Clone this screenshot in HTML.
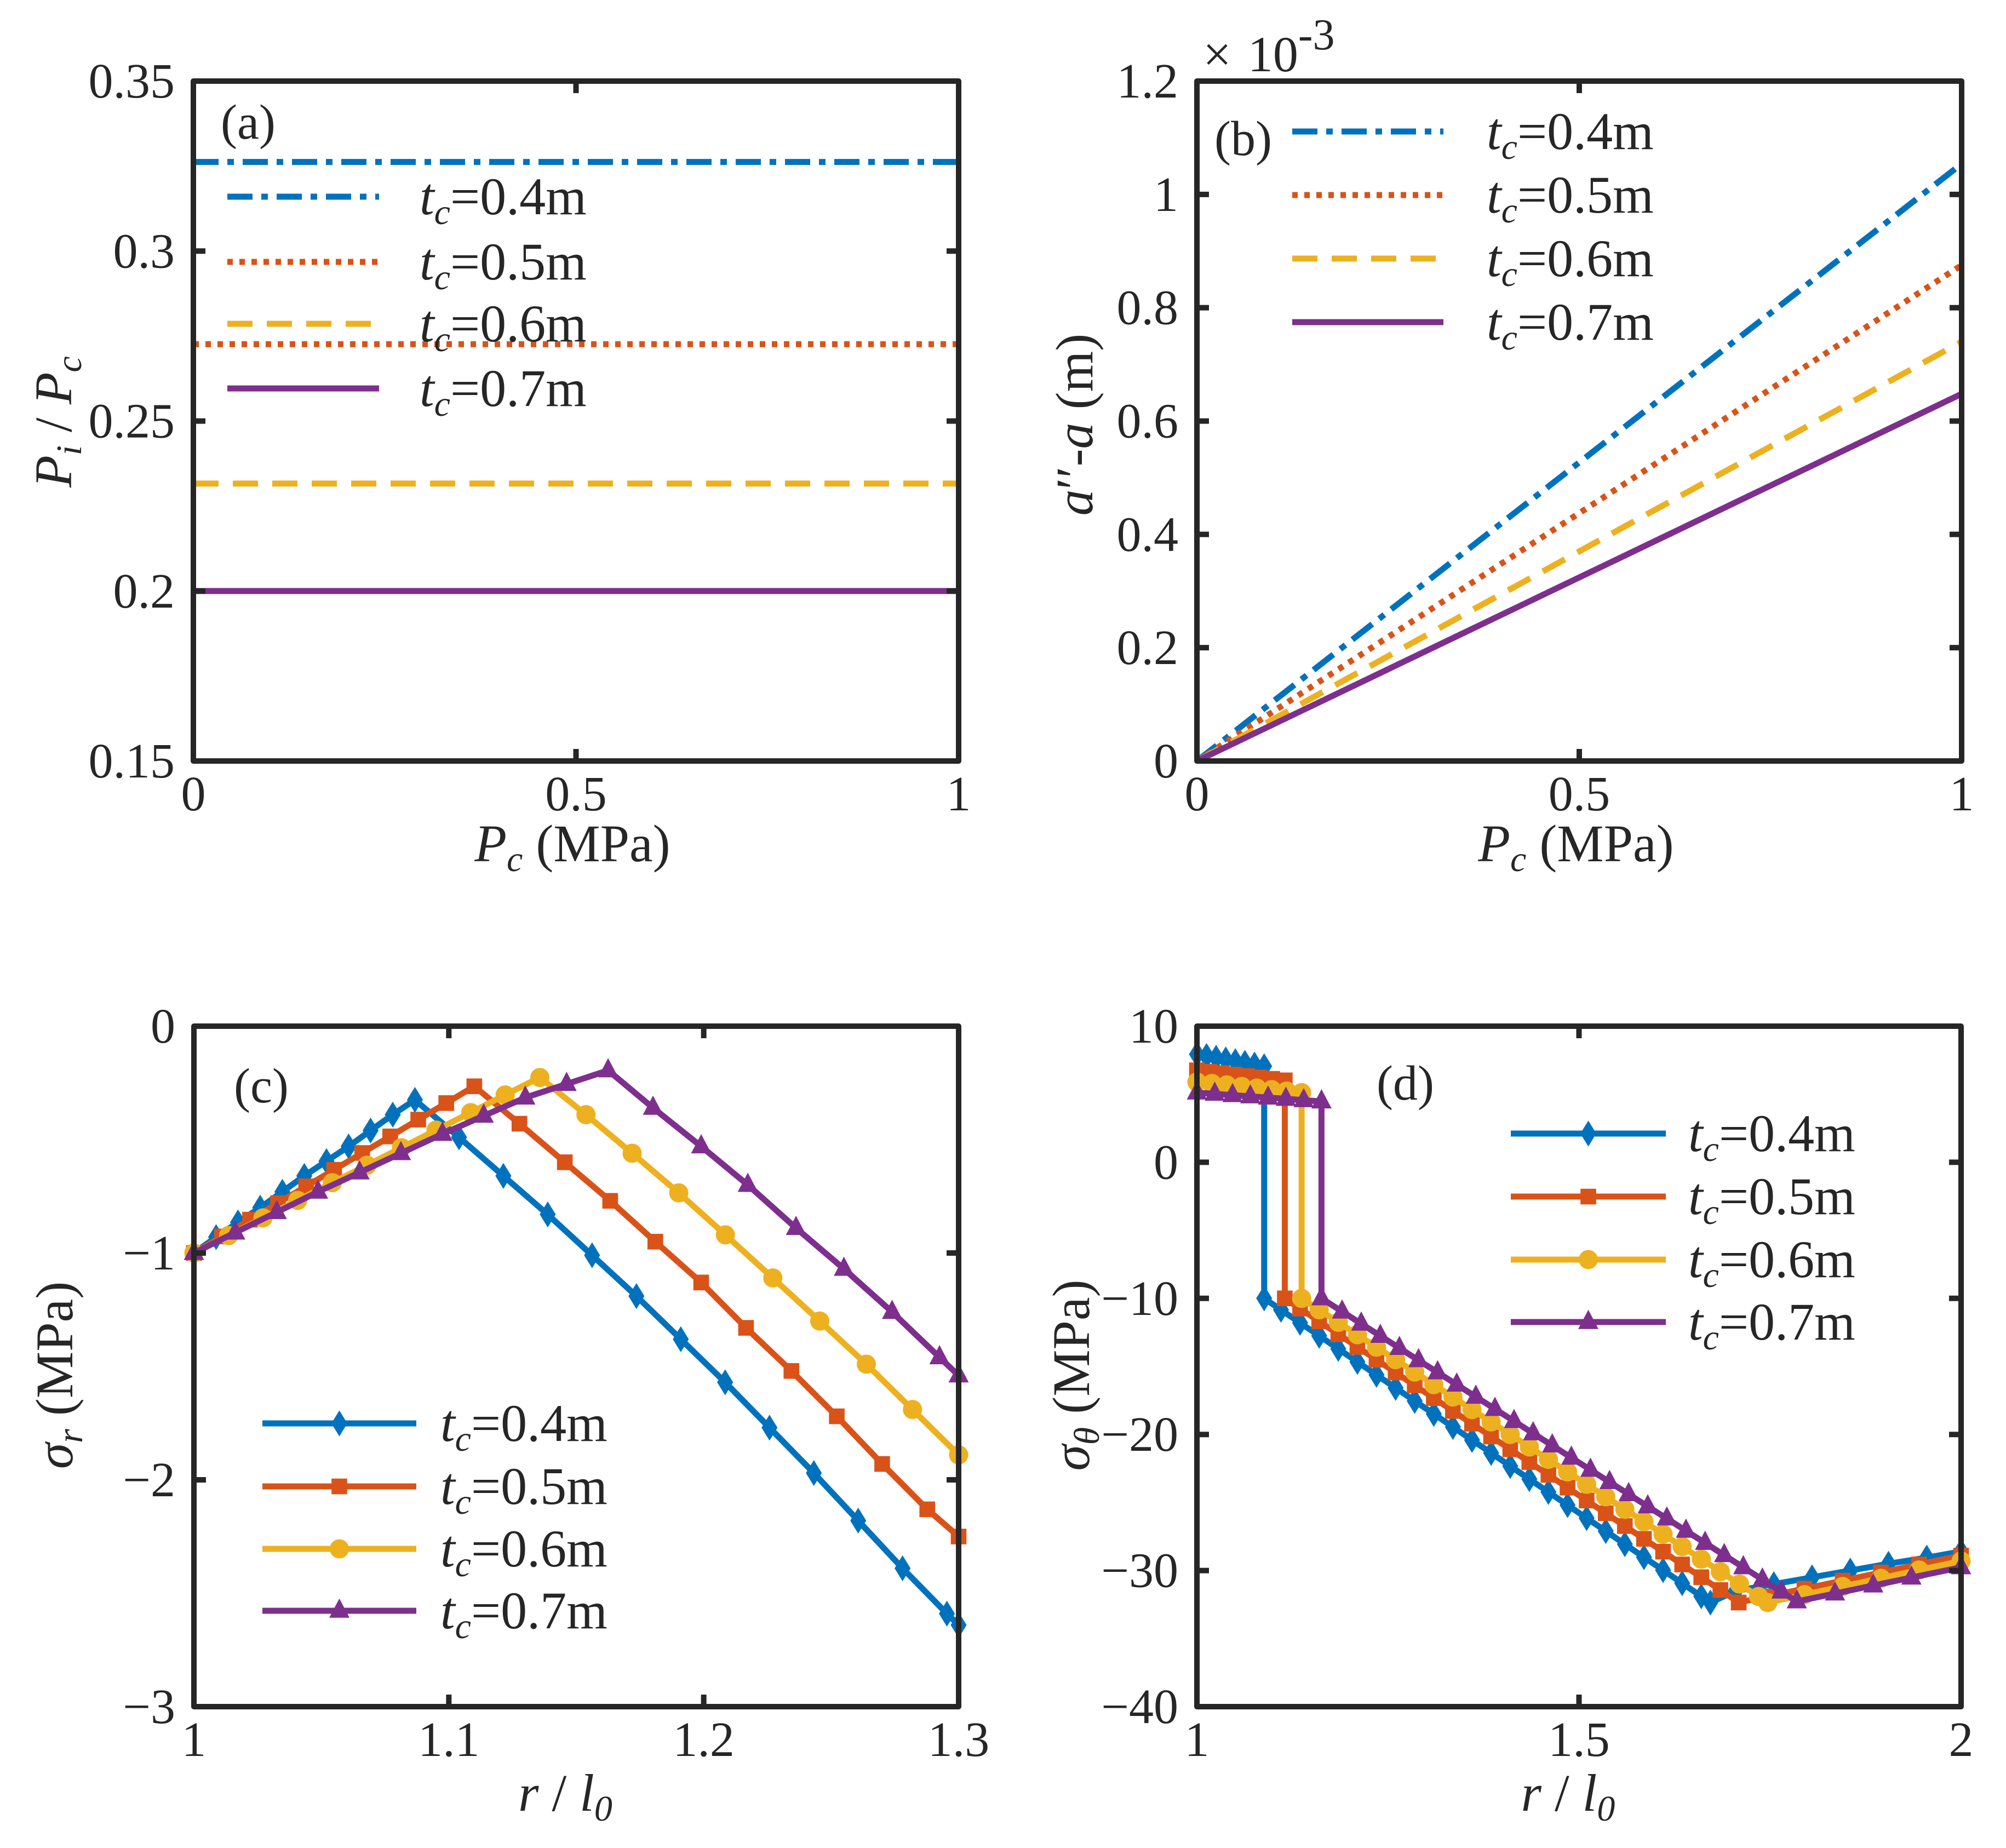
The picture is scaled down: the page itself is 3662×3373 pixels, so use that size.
<!DOCTYPE html>
<html><head><meta charset="utf-8"><style>
html,body{margin:0;padding:0;background:#fff;}
svg{display:block;}
text{font-family:"Liberation Serif",serif;fill:#262626;}
</style></head><body>
<svg id="fig" width="3662" height="3373" viewBox="0 0 3662 3373" xmlns="http://www.w3.org/2000/svg"></svg>
<script>
// ---------- data ----------
const seriesLabels=['0.4m','0.5m','0.6m','0.7m'];
const colors=['#0072BD','#D95319','#EDB120','#7E2F8E'];
// panel (a)
const aPc=[0,1];
const aRatio=[0.3262,0.2726,0.2316,0.2000];
const aXTicks=[0,0.5,1];
const aYTicks=[0.15,0.2,0.25,0.3,0.35];
const aYTickLabels=['0.15','0.2','0.25','0.3','0.35'];
// panel (b) values in units of 1e-3 m
const bPc=[0,1];
const bStart=[0,0,0,0];
const bEnd=[1.054,0.875,0.740,0.648];
const bXTicks=[0,0.5,1];
const bYTicks=[0,0.2,0.4,0.6,0.8,1,1.2];
const bYTickLabels=['0','0.2','0.4','0.6','0.8','1','1.2'];
// panel (c)
const cX0=[1,1.0087,1.0173,1.026,1.0347,1.0433,1.052,1.0607,1.0693,1.078,1.0867,1.104,1.1214,1.1388,1.1562,1.1736,1.191,1.2084,1.2258,1.2432,1.2606,1.278,1.2954,1.3];
const cY0=[-1,-0.93,-0.865,-0.80,-0.73,-0.66,-0.595,-0.53,-0.46,-0.39,-0.325,-0.49,-0.66,-0.83,-1.01,-1.19,-1.38,-1.57,-1.77,-1.97,-2.18,-2.39,-2.59,-2.64];
const cX1=[1,1.011,1.022,1.033,1.044,1.055,1.066,1.077,1.088,1.099,1.110,1.1277,1.1455,1.1633,1.181,1.199,1.2166,1.2344,1.2522,1.27,1.2877,1.3];
const cY1=[-1,-0.927,-0.853,-0.78,-0.706,-0.633,-0.559,-0.486,-0.412,-0.339,-0.265,-0.43,-0.60,-0.77,-0.95,-1.13,-1.33,-1.52,-1.72,-1.93,-2.13,-2.25];
const cX2=[1,1.0136,1.0271,1.0407,1.0543,1.0679,1.0814,1.095,1.1086,1.1221,1.1357,1.1538,1.1719,1.1902,1.2085,1.2271,1.2455,1.2638,1.2819,1.3];
const cY2=[-1,-0.923,-0.845,-0.768,-0.69,-0.613,-0.536,-0.458,-0.381,-0.303,-0.226,-0.39,-0.56,-0.735,-0.92,-1.11,-1.30,-1.49,-1.69,-1.89];
const cX3=[1,1.0162,1.0325,1.0487,1.065,1.0812,1.0975,1.1137,1.13,1.1462,1.1625,1.1801,1.199,1.2173,1.2362,1.255,1.2739,1.2925,1.3];
const cY3=[-1,-0.91,-0.82,-0.73,-0.645,-0.56,-0.475,-0.395,-0.315,-0.255,-0.195,-0.36,-0.53,-0.70,-0.89,-1.07,-1.26,-1.46,-1.54];
const cXTicks=[1,1.1,1.2,1.3];
const cXTickLabels=['1','1.1','1.2','1.3'];
const cYTicks=[-3,-2,-1,0];
const cYTickLabels=['\u22123','\u22122','\u22121','0'];
// panel (d)
const dX0=[1,1.0126,1.0251,1.0377,1.0503,1.0628,1.0754,1.088,1.088,1.11,1.135,1.16,1.185,1.21,1.235,1.26,1.285,1.31,1.335,1.36,1.385,1.41,1.435,1.46,1.485,1.51,1.535,1.56,1.585,1.61,1.635,1.66,1.672,1.705,1.755,1.805,1.855,1.905,1.955,2.0];
const dY0=[7.93,7.81,7.68,7.56,7.43,7.31,7.18,7.06,-10,-10.84,-11.80,-12.75,-13.71,-14.67,-15.62,-16.58,-17.54,-18.49,-19.45,-20.41,-21.36,-22.32,-23.28,-24.23,-25.19,-26.15,-27.10,-28.06,-29.02,-29.97,-30.93,-31.89,-32.35,-31.5,-31.0,-30.5,-30.0,-29.5,-29.05,-28.6];
const dX1=[1,1.0164,1.0329,1.0493,1.0657,1.0821,1.0986,1.115,1.115,1.135,1.16,1.185,1.21,1.235,1.26,1.285,1.31,1.335,1.36,1.385,1.41,1.435,1.46,1.485,1.51,1.535,1.56,1.585,1.61,1.635,1.66,1.685,1.709,1.745,1.795,1.845,1.895,1.945,2.0];
const dY1=[6.76,6.65,6.55,6.44,6.34,6.23,6.13,6.02,-10,-10.75,-11.69,-12.63,-13.57,-14.51,-15.45,-16.39,-17.33,-18.27,-19.21,-20.15,-21.09,-22.03,-22.97,-23.91,-24.85,-25.79,-26.73,-27.67,-28.61,-29.55,-30.49,-31.43,-32.35,-31.92,-31.33,-30.74,-30.14,-29.55,-28.9];
const dX2=[1,1.0196,1.0391,1.0587,1.0783,1.0979,1.1174,1.137,1.137,1.16,1.185,1.21,1.235,1.26,1.285,1.31,1.335,1.36,1.385,1.41,1.435,1.46,1.485,1.51,1.535,1.56,1.585,1.61,1.635,1.66,1.685,1.71,1.735,1.747,1.795,1.845,1.895,1.945,2.0];
const dY2=[5.9,5.79,5.68,5.57,5.45,5.34,5.23,5.12,-10,-10.84,-11.76,-12.67,-13.59,-14.50,-15.42,-16.34,-17.25,-18.17,-19.08,-20.00,-20.92,-21.83,-22.75,-23.66,-24.58,-25.50,-26.41,-27.33,-28.24,-29.16,-30.08,-30.99,-31.91,-32.35,-31.77,-31.17,-30.57,-29.96,-29.3];
const dX3=[1,1.0233,1.0466,1.0699,1.0931,1.1164,1.1397,1.163,1.163,1.19,1.215,1.24,1.265,1.29,1.315,1.34,1.365,1.39,1.415,1.44,1.465,1.49,1.515,1.54,1.565,1.59,1.615,1.64,1.665,1.69,1.715,1.74,1.765,1.785,1.835,1.885,1.935,2.0];
const dY3=[5.12,5.03,4.93,4.84,4.75,4.66,4.56,4.47,-10,-10.97,-11.86,-12.76,-13.65,-14.55,-15.44,-16.34,-17.23,-18.13,-19.02,-19.92,-20.81,-21.71,-22.60,-23.50,-24.39,-25.29,-26.18,-27.08,-27.97,-28.87,-29.76,-30.66,-31.55,-32.27,-31.69,-31.10,-30.52,-29.76];
const dXTicks=[1,1.5,2];
const dXTickLabels=['1','1.5','2'];
const dYTicks=[-40,-30,-20,-10,0,10];
const dYTickLabels=['\u221240','\u221230','\u221220','\u221210','0','10'];

// ---------- helpers ----------
const NS='http://www.w3.org/2000/svg';
const svg=document.getElementById('fig');
function mk(tag,attrs,parent){const e=document.createElementNS(NS,tag);for(const k in attrs)e.setAttribute(k,attrs[k]);(parent||svg).appendChild(e);return e;}
function scale(d0,d1,p0,p1){return v=>p0+(v-d0)/(d1-d0)*(p1-p0);}

function axesFrame(g,L,R,T,B,xt,xs,xl,yt,ys,yl,name){
  for(let i=0;i<xt.length;i++){
    const x=xs(xt[i]);
    const t1=mk('line',{x1:x,y1:B,x2:x,y2:B-22,stroke:'#262626','stroke-width':10},g);
    
    
    const t2=mk('line',{x1:x,y1:T,x2:x,y2:T+22,stroke:'#262626','stroke-width':10},g);
    
    
    const lb=mk('text',{x:x,y:B+90,'text-anchor':'middle','font-size':90},g);
    lb.textContent=xl[i];
    
    
  }
  for(let i=0;i<yt.length;i++){
    const y=ys(yt[i]);
    const t1=mk('line',{x1:L,y1:y,x2:L+22,y2:y,stroke:'#262626','stroke-width':10},g);
    
    
    const t2=mk('line',{x1:R,y1:y,x2:R-22,y2:y,stroke:'#262626','stroke-width':10},g);
    
    
    const lb=mk('text',{x:L-34,y:y+30,'text-anchor':'end','font-size':90},g);
    lb.textContent=yl[i];
    
    
  }
  const r=mk('rect',{x:L,y:T,width:R-L,height:B-T,fill:'none',stroke:'#262626','stroke-width':10,'stroke-linejoin':'round'},g);
  
  
}

function marker(g,type,x,y,color,name){
  let e;
  const s=16;
  if(type===0){e=mk('polygon',{points:`${x},${y-s*1.3} ${x+s*0.8},${y} ${x},${y+s*1.3} ${x-s*0.8},${y}`,fill:color,stroke:color,'stroke-width':3},g);}
  else if(type===1){e=mk('rect',{x:x-s*0.8,y:y-s*0.8,width:s*1.6,height:s*1.6,fill:color,stroke:color,'stroke-width':3},g);}
  else if(type===2){e=mk('circle',{cx:x,cy:y,r:s,fill:color,stroke:color,'stroke-width':3},g);}
  else {e=mk('polygon',{points:`${x},${y-s*1.2} ${x+s},${y+s*0.7} ${x-s},${y+s*0.7}`,fill:color,stroke:color,'stroke-width':3},g);}
  
  
}

function legendText(g,x,y,lab,name){
  const t=mk('text',{x:x,y:y,'font-size':96},g);
  
  
  t.innerHTML='<tspan font-style="italic">t</tspan><tspan font-style="italic" font-size="66" dy="18">c</tspan><tspan dy="-18">='+lab+'</tspan>';
}

const dashes=['46 16 12 16','10 12','46 26',''];

// ---------- panel (a) ----------
(function(){
  const L=353,R=1750,T=148,B=1389;
  const g=mk('g',{});
  
  
  const xs=scale(0,1,L,R), ys=scale(0.15,0.35,B,T);
  for(let i=0;i<4;i++){
    const l=mk('line',{x1:xs(aPc[0]),y1:ys(aRatio[i]),x2:xs(aPc[1]),y2:ys(aRatio[i]),stroke:colors[i],'stroke-width':11,'stroke-dasharray':dashes[i]},g);
    
    
  }
  axesFrame(g,L,R,T,B,aXTicks,xs,['0','0.5','1'],aYTicks,ys,aYTickLabels,'a');
  const ly=[359,478,591,709];
  for(let i=0;i<4;i++){
    const l=mk('line',{x1:415,y1:ly[i],x2:692,y2:ly[i],stroke:colors[i],'stroke-width':11,'stroke-dasharray':dashes[i]},g);
    
    
    legendText(g,766,ly[i]+32,seriesLabels[i],'legend-a-label-'+seriesLabels[i]);
  }
  const pl=mk('text',{x:403,y:253,'font-size':90},g);pl.textContent='(a)';
  
  
  const xt=mk('text',{x:1045,y:1572,'text-anchor':'middle','font-size':96},g);
  xt.innerHTML='<tspan font-style="italic">P</tspan><tspan font-style="italic" font-size="66" dy="18">c</tspan><tspan dy="-18"> (MPa)</tspan>';
  
  
  const yt=mk('text',{x:0,y:0,'text-anchor':'middle','font-size':96,transform:'translate(130,770) rotate(-90)'},g);
  yt.innerHTML='<tspan font-style="italic">P</tspan><tspan font-style="italic" font-size="66" dy="18">i</tspan><tspan dy="-18"> / </tspan><tspan font-style="italic">P</tspan><tspan font-style="italic" font-size="66" dy="18">c</tspan>';
  
  
})();

// ---------- panel (b) ----------
(function(){
  const L=2185,R=3581,T=148,B=1389;
  const g=mk('g',{});
  
  
  const xs=scale(0,1,L,R), ys=scale(0,1.2,B,T);
  for(let i=0;i<4;i++){
    const l=mk('line',{x1:xs(bPc[0]),y1:ys(bStart[i]),x2:xs(bPc[1]),y2:ys(bEnd[i]),stroke:colors[i],'stroke-width':11,'stroke-dasharray':dashes[i]},g);
    
    
  }
  axesFrame(g,L,R,T,B,bXTicks,xs,['0','0.5','1'],bYTicks,ys,bYTickLabels,'b');
  const ly=[240,356,472,588];
  for(let i=0;i<4;i++){
    const l=mk('line',{x1:2359,y1:ly[i],x2:2635,y2:ly[i],stroke:colors[i],'stroke-width':11,'stroke-dasharray':dashes[i]},g);
    
    
    legendText(g,2714,ly[i]+32,seriesLabels[i],'legend-b-label-'+seriesLabels[i]);
  }
  const pl=mk('text',{x:2217,y:283,'font-size':90},g);pl.textContent='(b)';
  
  
  const ex=mk('text',{x:2196,y:130,'font-size':92},g);
  ex.innerHTML='\u00D7<tspan dx="30">10</tspan><tspan dy="-40" font-size="80">-3</tspan>';
  
  
  const xt=mk('text',{x:2877,y:1572,'text-anchor':'middle','font-size':96},g);
  xt.innerHTML='<tspan font-style="italic">P</tspan><tspan font-style="italic" font-size="66" dy="18">c</tspan><tspan dy="-18"> (MPa)</tspan>';
  
  
  const yt=mk('text',{x:0,y:0,'text-anchor':'middle','font-size':96,transform:'translate(1994,775) rotate(-90)'},g);
  yt.innerHTML='<tspan font-style="italic">a</tspan>\u2032\u2032-<tspan font-style="italic">a</tspan> (m)';
  
  
})();

// ---------- panels (c) and (d) ----------
function markerPanel(cfg){
  const {L,R,T,B,x0,x1,y0,y1,X,Y,xt,xl,yt,yl,name}=cfg;
  const g=mk('g',{});
  
  
  const xs=scale(x0,x1,L,R), ys=scale(y0,y1,B,T);
  for(let i=0;i<4;i++){
    const pts=X[i].map((v,j)=>xs(v)+','+ys(Y[i][j])).join(' ');
    const pl=mk('polyline',{points:pts,fill:'none',stroke:colors[i],'stroke-width':11,'stroke-linejoin':'round'},g);
    
    
    for(let j=0;j<X[i].length;j++){marker(g,i,xs(X[i][j]),ys(Y[i][j]),colors[i],'marker-'+name+'-'+seriesLabels[i]);}
  }
  axesFrame(g,L,R,T,B,xt,xs,xl,yt,ys,yl,name);
  for(let i=0;i<4;i++){
    const y=cfg.ly[i];
    const l=mk('line',{x1:cfg.lx0,y1:y,x2:cfg.lx1,y2:y,stroke:colors[i],'stroke-width':11},g);
    
    
    marker(g,i,(cfg.lx0+cfg.lx1)/2,y,colors[i],'legend-'+name+'-marker-'+seriesLabels[i]);
    legendText(g,cfg.tx,y+32,seriesLabels[i],'legend-'+name+'-label-'+seriesLabels[i]);
  }
  const p=mk('text',{x:cfg.px,y:cfg.py,'font-size':90},g);p.textContent='('+name+')';
  
  
  const xtl=mk('text',{x:(L+R)/2-20,y:3305,'text-anchor':'middle','font-size':96},g);
  xtl.innerHTML='<tspan font-style="italic">r</tspan> / <tspan font-style="italic">l</tspan><tspan font-style="italic" font-size="66" dy="18">0</tspan>';
  
  
  const ytl=mk('text',{x:0,y:0,'text-anchor':'middle','font-size':96,transform:`translate(${cfg.yx},2510) rotate(-90)`},g);
  ytl.innerHTML='<tspan font-style="italic">\u03C3</tspan><tspan font-style="italic" font-size="66" dy="18">'+cfg.sub+'</tspan><tspan dy="-18"> (MPa)</tspan>';
  
  
}
markerPanel({L:354,R:1750,T:1873,B:3115,x0:1,x1:1.3,y0:-3,y1:0,X:[cX0,cX1,cX2,cX3],Y:[cY0,cY1,cY2,cY3],
  xt:cXTicks,xl:cXTickLabels,yt:cYTicks,yl:cYTickLabels,name:'c',ly:[2598,2713,2827,2940],lx0:479,lx1:760,tx:804,px:427,py:2012,yx:132,sub:'r'});
markerPanel({L:2185,R:3580,T:1873,B:3115,x0:1,x1:2,y0:-40,y1:10,X:[dX0,dX1,dX2,dX3],Y:[dY0,dY1,dY2,dY3],
  xt:dXTicks,xl:dXTickLabels,yt:dYTicks,yl:dYTickLabels,name:'d',ly:[2069,2184,2299,2413],lx0:2758,lx1:3041,tx:3082,px:2513,py:2007,yx:1988,sub:'\u03B8'});
</script>
</body></html>
